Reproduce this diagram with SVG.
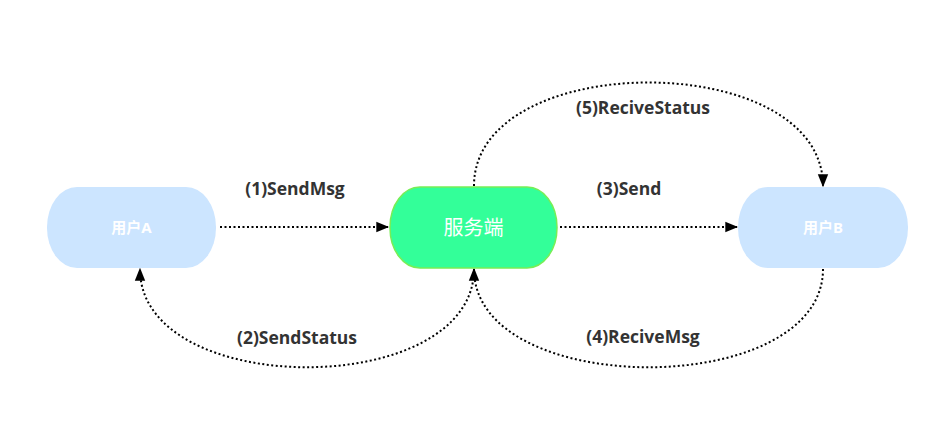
<svg xmlns="http://www.w3.org/2000/svg" width="938" height="438" viewBox="0 0 938 438">
<style>
.user{fill:#cce5ff;}
.srv{fill:#33ff99;stroke:#77ee55;stroke-width:1.5;}
.ut{fill:#fff;font-family:"Noto Sans","Noto Sans CJK SC",sans-serif;font-weight:bold;font-size:15px;text-anchor:middle;}
.st{fill:#fff;font-family:"Noto Sans","Noto Sans CJK SC",sans-serif;font-size:20px;text-anchor:middle;}
.lbl{fill:#333;font-family:"Open Sans","Noto Sans",sans-serif;font-weight:bold;font-size:17.5px;text-anchor:middle;}
.e{fill:none;stroke:#000;stroke-width:2;stroke-dasharray:2 2.5;marker-end:url(#ah);}
</style>
<defs>
<marker id="ah" viewBox="0 0 10 10" refX="9" refY="5" markerWidth="6.5" markerHeight="6.5" markerUnits="strokeWidth" orient="auto">
<path d="M0,1 L10,5 L0,9 Z" fill="#000"/>
</marker>
</defs>
<rect width="938" height="438" fill="#fff"/>
<g id="connectors">
<path class="e" d="M220,227 L388,227"/>
<path class="e" d="M560,227 L737,227"/>
<path class="e" d="M474,269 C474,400 140,400 140,269"/>
<path class="e" d="M823,269 C823,400 474,400 474,269"/>
<path class="e" d="M474,186 C474,48 823,48 823,186"/>
</g>
<g id="userA">
<rect class="user" x="47" y="187" width="169" height="81" rx="30" ry="40"/>
<text class="ut" x="131.5" y="233">用户A</text>
</g>
<g id="server">
<rect class="srv" x="390" y="187" width="167" height="81" rx="30" ry="40"/>
<text class="st" x="473.5" y="235">服务端</text>
</g>
<g id="userB">
<rect class="user" x="738" y="187" width="170" height="81" rx="30" ry="40"/>
<text class="ut" x="823" y="233">用户B</text>
</g>
<g id="labels">
<text class="lbl" x="295" y="195">(1)SendMsg</text>
<text class="lbl" x="629" y="195">(3)Send</text>
<text class="lbl" x="297" y="344">(2)SendStatus</text>
<text class="lbl" x="643" y="343">(4)ReciveMsg</text>
<text class="lbl" x="643" y="114">(5)ReciveStatus</text>
</g>
</svg>
